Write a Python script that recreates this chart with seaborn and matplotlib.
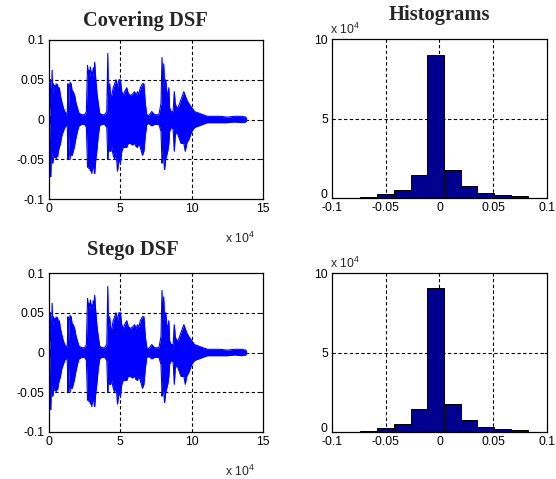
import numpy as np
import pandas as pd
import matplotlib
matplotlib.use("Agg")
import matplotlib.pyplot as plt
import matplotlib.transforms as mtransforms
import seaborn as sns

sns.set_style("white")
plt.rcParams["font.family"] = ["Liberation Sans", "DejaVu Sans"]
plt.rcParams["axes.unicode_minus"] = False
plt.rcParams["mathtext.fontset"] = "custom"
plt.rcParams["mathtext.rm"] = "Liberation Sans"
plt.rcParams["mathtext.it"] = "Liberation Sans"

# Amplitude envelope of the signal (sample index in units of 1e4, upper / lower peak)
env_pos = [0.00, 0.08, 0.10, 0.12, 0.16, 0.22, 0.26, 0.30, 0.35, 0.40, 0.45, 0.50, 0.55, 0.60, 0.65,
           0.72, 0.80, 0.90, 1.00, 1.10, 1.20, 1.28, 1.33, 1.36, 1.42, 1.48, 1.52, 1.55,
           1.62, 1.70, 1.80, 1.90, 2.00, 2.10, 2.30, 2.50, 2.62, 2.70, 2.75, 2.80, 2.85, 2.90,
           2.95, 3.00, 3.05, 3.10, 3.15, 3.20, 3.28, 3.35, 3.45, 3.55, 3.70, 3.90, 4.05, 4.12, 4.16,
           4.25, 4.32, 4.40, 4.50, 4.60, 4.70, 4.80, 4.90, 5.00, 5.10, 5.20, 5.30,
           5.45, 5.55, 5.70, 5.85, 6.00, 6.10, 6.20, 6.30, 6.40, 6.55, 6.65, 6.75, 6.85, 7.00,
           7.20, 7.40, 7.70, 7.85, 7.92, 7.98, 8.04, 8.10, 8.18, 8.25, 8.32, 8.40,
           8.45, 8.55, 8.70, 8.78, 8.85, 8.95, 9.05, 9.15, 9.25, 9.35, 9.45, 9.55,
           9.65, 9.80, 10.0, 10.2, 10.5, 10.8, 11.1, 11.5, 12.0, 12.5, 13.0, 13.5,
           13.8, 13.85]
env_upper = [0.004, 0.006, 0.050, 0.020, 0.015, 0.062, 0.030, 0.045, 0.040, 0.043, 0.038, 0.045, 0.040, 0.044, 0.038,
             0.040, 0.030, 0.022, 0.015, 0.010, 0.008, 0.006, 0.045, 0.010, 0.040, 0.047, 0.040, 0.045,
             0.036, 0.035, 0.030, 0.020, 0.014, 0.008, 0.006, 0.006, 0.010, 0.068, 0.058, 0.062, 0.055, 0.066,
             0.058, 0.060, 0.054, 0.065, 0.058, 0.072, 0.050, 0.035, 0.020, 0.008, 0.006, 0.006, 0.010, 0.083, 0.030,
             0.045, 0.030, 0.030, 0.040, 0.045, 0.050, 0.040, 0.050, 0.050, 0.035, 0.030, 0.035,
             0.040, 0.033, 0.030, 0.032, 0.035, 0.030, 0.035, 0.032, 0.040, 0.045, 0.045, 0.020, 0.006, 0.005,
             0.010, 0.006, 0.006, 0.020, 0.078, 0.040, 0.070, 0.040, 0.050, 0.035, 0.030, 0.040,
             0.015, 0.010, 0.010, 0.035, 0.020, 0.015, 0.015, 0.020, 0.025, 0.030, 0.035, 0.030,
             0.025, 0.020, 0.015, 0.010, 0.008, 0.006, 0.004, 0.004, 0.004, 0.003, 0.004, 0.004,
             0.003, 0.000]
env_lower = [-0.004, -0.006, -0.030, -0.072, -0.040, -0.045, -0.055, -0.050, -0.044, -0.048, -0.042, -0.050, -0.044, -0.047, -0.040,
             -0.035, -0.030, -0.020, -0.015, -0.010, -0.008, -0.006, -0.050, -0.015, -0.040, -0.050, -0.042, -0.045,
             -0.045, -0.040, -0.032, -0.022, -0.014, -0.008, -0.006, -0.006, -0.010, -0.060, -0.054, -0.062, -0.056, -0.065,
             -0.058, -0.068, -0.060, -0.060, -0.062, -0.068, -0.050, -0.040, -0.020, -0.008, -0.006, -0.006, -0.010, -0.050, -0.035,
             -0.040, -0.040, -0.035, -0.045, -0.050, -0.040, -0.065, -0.050, -0.055, -0.040, -0.035, -0.035,
             -0.035, -0.030, -0.030, -0.032, -0.030, -0.034, -0.035, -0.030, -0.035, -0.045, -0.040, -0.020, -0.006, -0.005,
             -0.008, -0.006, -0.006, -0.015, -0.055, -0.045, -0.050, -0.063, -0.050, -0.045, -0.040, -0.030,
             -0.015, -0.010, -0.012, -0.040, -0.020, -0.015, -0.020, -0.025, -0.030, -0.030, -0.030, -0.040,
             -0.030, -0.025, -0.015, -0.010, -0.008, -0.006, -0.004, -0.004, -0.004, -0.004, -0.003, -0.004,
             -0.003, 0.000]

# Amplitude histogram: 10 bins between the signal minimum and maximum
hist_centers = [-0.0658, -0.0502, -0.0347, -0.0191, -0.0036, 0.0120, 0.0276, 0.0431, 0.0587, 0.0742]
hist_edges = [-0.0736, -0.0580, -0.0425, -0.0269, -0.0114, 0.0042, 0.0198, 0.0353, 0.0509, 0.0664, 0.0820]
cover_counts = [600, 2500, 5000, 14300, 90100, 17400, 7300, 3100, 1700, 1000]
stego_counts = [600, 2500, 5000, 14300, 90800, 17500, 7300, 3100, 1700, 1000]

wave_ticks = [0, 5, 10, 15]
amp_ticks = [-0.1, -0.05, 0, 0.05, 0.1]
amp_labels = ["-0.1", "-0.05", "0", "0.05", "0.1"]
count_ticks = [0, 5, 10]

wave_df = pd.DataFrame({"n": np.array(env_pos) * 1e4, "up": env_upper, "lo": env_lower})

W, H = 556, 479
fig = plt.figure(figsize=(W / 100, H / 100), dpi=100)


def box(l, t, r, b):
    return [l / W, 1 - b / H, (r - l) / W, (b - t) / H]


grid_kw = dict(color="black", linewidth=0.8, linestyle=(0, (3, 2.2)))
tick_font = 8.8
title_kw = dict(fontfamily="Liberation Serif", fontweight="bold", fontsize=14.8)


def style_axes(ax):
    for s in ax.spines.values():
        s.set_color("black")
        s.set_linewidth(0.9)
    ax.tick_params(direction="in", length=2, width=0.6, labelsize=tick_font,
                   colors="black", pad=3, top=True, right=True)


def wave_panel(ax, title, title_x, title_pad):
    ax.fill_between(wave_df["n"], wave_df["lo"], wave_df["up"], color="#0000ff", linewidth=0)
    sns.lineplot(data=wave_df, x="n", y="up", ax=ax, color="#0000ff", linewidth=0.8)
    sns.lineplot(data=wave_df, x="n", y="lo", ax=ax, color="#0000ff", linewidth=0.8)
    ax.set_xlim(0, 150000)
    ax.set_ylim(-0.1, 0.1)
    ax.set_xticks([v * 1e4 for v in wave_ticks])
    ax.set_xticklabels([str(v) for v in wave_ticks])
    ax.set_yticks(amp_ticks)
    ax.set_yticklabels(amp_labels)
    for v in (50000, 100000):
        ax.axvline(v, **grid_kw, zorder=0)
    for v in (-0.05, 0, 0.05):
        ax.axhline(v, **grid_kw, zorder=0)
    ax.set_xlabel("")
    ax.set_ylabel("")
    style_axes(ax)
    ax.text(0.96, -0.275, r"x 10$^{4}$", transform=ax.transAxes, ha="right",
            va="baseline", fontsize=tick_font)
    ax.set_title(title, x=title_x, pad=title_pad, **title_kw)


def hist_panel(ax, counts, title=None):
    sns.histplot(x=hist_centers, weights=counts, bins=hist_edges, ax=ax,
                 color="#00008f", edgecolor="black", linewidth=0.7, alpha=1.0, zorder=2)
    ax.set_xlim(-0.1, 0.1)
    ax.set_ylim(0, 100000)
    ax.set_xticks(amp_ticks)
    ax.set_xticklabels(amp_labels)
    ax.set_yticks([v * 1e4 for v in count_ticks])
    ax.set_yticklabels([str(v) for v in count_ticks])
    for v in (-0.05, 0, 0.05):
        ax.axvline(v, **grid_kw, zorder=1)
    ax.axhline(50000, **grid_kw, zorder=1)
    ax.set_xlabel("")
    ax.set_ylabel("")
    style_axes(ax)
    # lift the bottom "0" count label clear of the "-0.1" amplitude label
    lab0 = ax.get_yticklabels()[0]
    lab0.set_transform(lab0.get_transform() +
                       mtransforms.ScaledTranslation(0, 3 / 72, fig.dpi_scale_trans))
    ax.text(-0.01, 1.03, r"x 10$^{4}$", transform=ax.transAxes, ha="left",
            va="baseline", fontsize=tick_font)
    if title:
        ax.set_title(title, pad=14, **title_kw)


ax1 = fig.add_axes(box(49, 40, 263, 199))
wave_panel(ax1, "Covering DSF", 0.45, 10)
ax2 = fig.add_axes(box(332, 39, 547, 198))
hist_panel(ax2, cover_counts, "Histograms")
ax3 = fig.add_axes(box(49, 273, 263, 432))
wave_panel(ax3, "Stego DSF", 0.39, 13)
ax4 = fig.add_axes(box(332, 273, 547, 432))
hist_panel(ax4, stego_counts)

fig.savefig("out.png", dpi=100)
